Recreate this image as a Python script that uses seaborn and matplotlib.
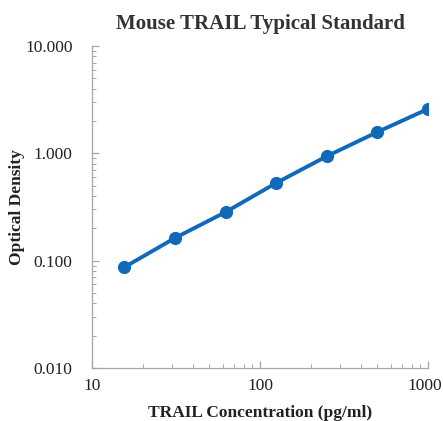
import matplotlib
matplotlib.use("Agg")
import matplotlib.pyplot as plt
import matplotlib.ticker as mticker
import matplotlib.transforms as mtransforms
import seaborn as sns
import pandas as pd

conc = [15.6, 31.25, 62.5, 125, 250, 500, 1000]
od = [0.087, 0.163, 0.284, 0.53, 0.94, 1.58, 2.59]
y_ticks = [0.01, 0.1, 1, 10]
y_tick_labels = ["0.010", "0.100", "1.000", "10.000"]
x_ticks = [10, 100, 1000]
x_tick_labels = ["10", "100", "1000"]

sns.set_style("white")
plt.rcParams['font.family'] = ['Liberation Serif', 'DejaVu Serif']

df = pd.DataFrame({"conc": conc, "od": od})
fig = plt.figure(figsize=(4.43, 4.21), dpi=100)
ax = fig.add_axes([0.2077, 0.1259, 0.7583, 0.7648])
sns.lineplot(data=df, x="conc", y="od", ax=ax, color="#1169BA", linewidth=2.8,
             marker="o", markersize=9.5, markeredgewidth=0, markeredgecolor="#1169BA")
ax.set_xscale("log")
ax.set_yscale("log")
ax.set_xlim(10, 1000)
ax.set_ylim(0.01, 10)
ax.set_xticks(x_ticks)
ax.set_xticklabels(x_tick_labels)
ax.set_yticks(y_ticks)
ax.set_yticklabels(y_tick_labels)
ax.xaxis.set_minor_locator(mticker.LogLocator(base=10, subs=range(2, 10)))
ax.yaxis.set_minor_locator(mticker.LogLocator(base=10, subs=range(2, 10)))
ax.xaxis.set_minor_formatter(mticker.NullFormatter())
ax.yaxis.set_minor_formatter(mticker.NullFormatter())
for s in ["top", "right"]:
    ax.spines[s].set_visible(False)
for s in ["left", "bottom"]:
    ax.spines[s].set_color("#A6A6A6")
    ax.spines[s].set_linewidth(0.9)
ax.tick_params(which="both", direction="in", color="#A6A6A6", labelsize=12.5,
               labelcolor="#222222", bottom=True, left=True, top=False, right=False)
ax.tick_params(which="major", length=5, width=0.9)
ax.tick_params(which="minor", length=3, width=0.7)
ax.tick_params(axis="x", which="major", pad=7)
ax.tick_params(axis="y", which="major", pad=14)
last = ax.get_xticklabels()[-1]
last.set_transform(last.get_transform() + mtransforms.ScaledTranslation(-3 / 100, 0, fig.dpi_scale_trans))
ax.set_xlabel("TRAIL Concentration (pg/ml)", fontsize=12.5, fontweight="bold", color="#222222", labelpad=8)
ax.set_ylabel("Optical Density", fontsize=12.5, fontweight="bold", color="#222222", labelpad=0)
ax.set_title("Mouse TRAIL Typical Standard", fontsize=15, fontweight="bold", color="#333333", pad=12)
ax.grid(False)
fig.savefig("out.png", dpi=100)
